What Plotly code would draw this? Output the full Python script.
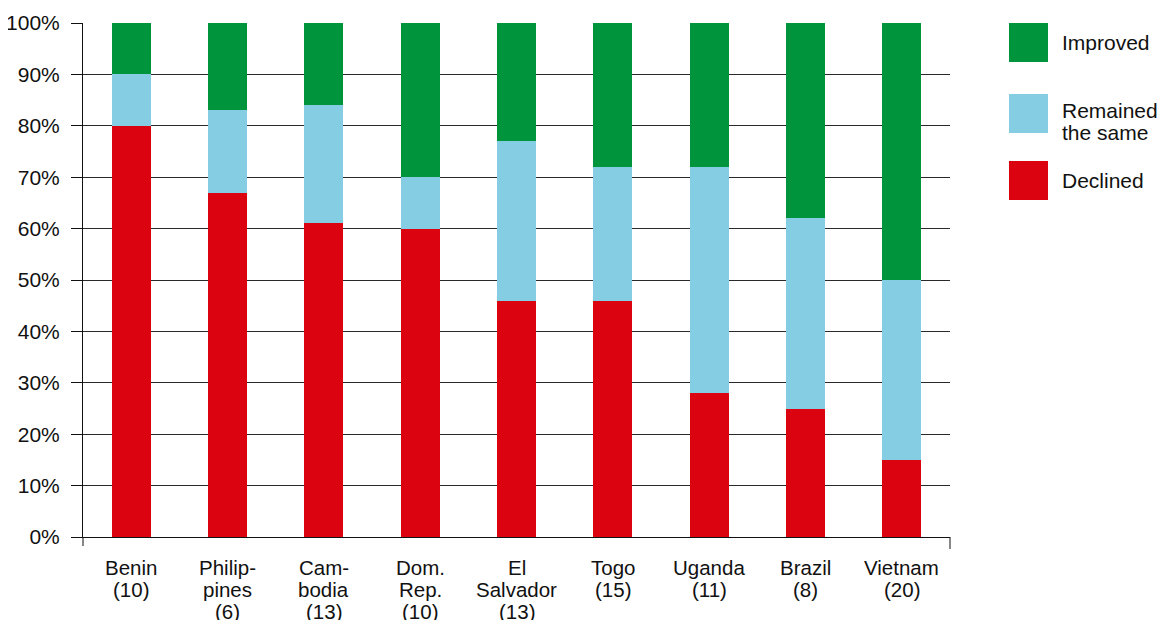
import plotly.graph_objects as go

categories = ["Benin<br>(10)", "Philip-<br>pines<br>(6)", "Cam-<br>bodia<br>(13)", "Dom.<br>Rep.<br>(10)",
              "El<br>Salvador<br>(13)", "Togo<br>(15)", "Uganda<br>(11)", "Brazil<br>(8)", "Vietnam<br>(20)"]
declined = [80, 67, 61, 60, 46, 46, 28, 25, 15]
remained = [10, 16, 23, 10, 31, 26, 44, 37, 35]
improved = [10, 17, 16, 30, 23, 28, 28, 38, 50]
y_ticks = [0, 10, 20, 30, 40, 50, 60, 70, 80, 90, 100]
y_tick_labels = [f"{v}%" for v in y_ticks]

series = [("Declined", declined, "#DC0311"),
          ("Remained<br>the same", remained, "#85CDE3"),
          ("Improved", improved, "#00943D")]

FONT = "Liberation Sans"
TXT = "#111111"
fig = go.Figure()
xs = list(range(len(categories)))
for name, vals, col in series:
    fig.add_trace(go.Bar(x=xs, y=vals, name=name, marker=dict(color=col, line=dict(width=0)),
                         width=0.405, showlegend=False))

# page has an 8px body margin; the figure is sized to fit the window
OFF = 8
W, H = 1166 - OFF, 620 - OFF
# plot area in screen pixels: x 83..950, y 23..537
L, T = 83 - OFF, 23 - OFF
R = W - (950 - OFF)
B = H - (537 - OFF)
pw, ph = W - L - R, H - T - B

def px_x(sx):
    return (sx - OFF - L) / pw

def px_y(sy):
    return (H - B - (sy - OFF)) / ph

shapes = []
# axis extensions below the baseline
shapes.append(dict(type="line", xref="paper", yref="paper", x0=0, x1=0, y0=0, y1=px_y(546),
                   line=dict(color="#111", width=1)))
shapes.append(dict(type="line", xref="paper", yref="paper", x0=1, x1=1, y0=0, y1=px_y(549),
                   line=dict(color="#111", width=1)))

annotations = []
# category labels (one annotation per text line, tight line spacing)
line_centers = [567.5, 589.5, 611.5]
for i, lab in enumerate(categories):
    for j, part in enumerate(lab.split("<br>")):
        annotations.append(dict(text=part, xref="x", yref="paper", x=i, y=px_y(line_centers[j]),
                                xanchor="center", yanchor="middle", showarrow=False,
                                font=dict(family=FONT, size=20.5, color=TXT)))

# custom legend
legend_items = [("Improved", "#00943D", 23, 62, [43]),
                ("Remained<br>the same", "#85CDE3", 94, 133, [110.5, 132.5]),
                ("Declined", "#DC0311", 161, 200, [180])]
for text, col, top, bot, centers in legend_items:
    shapes.append(dict(type="rect", xref="paper", yref="paper", x0=px_x(1009), x1=px_x(1048),
                       y0=px_y(bot), y1=px_y(top), fillcolor=col, line=dict(width=0)))
    for part, cy in zip(text.split("<br>"), centers):
        annotations.append(dict(text=part, xref="paper", yref="paper", x=px_x(1060),
                                y=px_y(cy), xanchor="left", yanchor="middle",
                                showarrow=False, align="left",
                                font=dict(family=FONT, size=21, color=TXT)))

fig.update_layout(
    barmode="stack",
    width=W, height=H,
    margin=dict(l=L, r=R, t=T, b=B, autoexpand=False),
    plot_bgcolor="white", paper_bgcolor="white",
    font=dict(family=FONT, size=21, color=TXT),
    shapes=shapes, annotations=annotations,
    xaxis=dict(tickmode="array", tickvals=xs, ticktext=categories, range=[-0.5, len(categories) - 0.5],
               showline=True, linecolor="#111", linewidth=1, ticks="", showgrid=False,
               showticklabels=False, zeroline=False),
    yaxis=dict(range=[0, 100], tickmode="array", tickvals=y_ticks, ticktext=y_tick_labels,
               showline=True, linecolor="#111", linewidth=1, ticks="outside", ticklen=11,
               tickcolor="#111", showgrid=True, gridcolor="#2a2a2a", gridwidth=1, zeroline=False,
               ticklabelstandoff=7,
               tickfont=dict(family=FONT, size=21, color=TXT)),
)
fig.write_html("out.html")
